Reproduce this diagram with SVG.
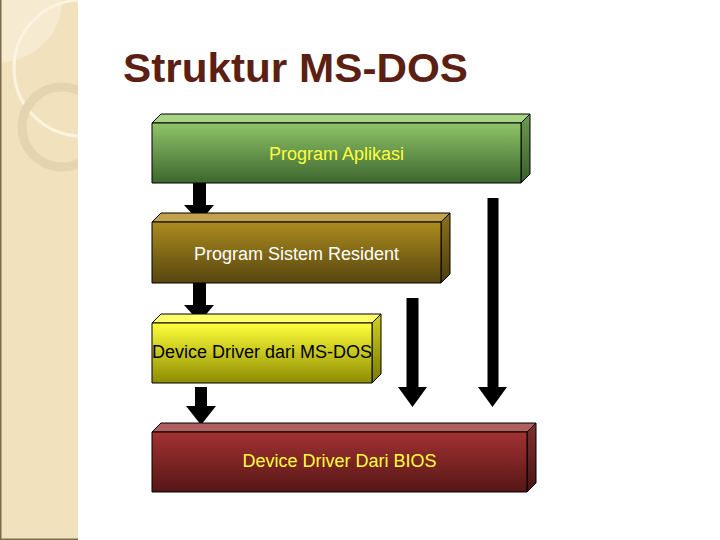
<svg xmlns="http://www.w3.org/2000/svg" width="720" height="540" viewBox="0 0 720 540">
<defs>
<linearGradient id="gGreen" x1="0" y1="0" x2="0" y2="1"><stop offset="0" stop-color="#8fc468"/><stop offset="1" stop-color="#3d672f"/></linearGradient>
<linearGradient id="gGreenS" x1="0" y1="0" x2="0" y2="1"><stop offset="0" stop-color="#6a9a50"/><stop offset="1" stop-color="#3a5e2c"/></linearGradient>
<linearGradient id="gBrown" x1="0" y1="0" x2="0" y2="1"><stop offset="0" stop-color="#ab8b1e"/><stop offset="1" stop-color="#574610"/></linearGradient>
<linearGradient id="gBrownS" x1="0" y1="0" x2="0" y2="1"><stop offset="0" stop-color="#8a7020"/><stop offset="1" stop-color="#4e3e0e"/></linearGradient>
<linearGradient id="gYellow" x1="0" y1="0" x2="0" y2="1"><stop offset="0" stop-color="#ffff3c"/><stop offset="1" stop-color="#8c8c00"/></linearGradient>
<linearGradient id="gYellowS" x1="0" y1="0" x2="0" y2="1"><stop offset="0" stop-color="#d0d020"/><stop offset="1" stop-color="#7a7a00"/></linearGradient>
<linearGradient id="gRed" x1="0" y1="0" x2="0" y2="1"><stop offset="0" stop-color="#a23232"/><stop offset="1" stop-color="#561616"/></linearGradient>
<linearGradient id="gRedS" x1="0" y1="0" x2="0" y2="1"><stop offset="0" stop-color="#803030"/><stop offset="1" stop-color="#4a1414"/></linearGradient>
<clipPath id="panel"><rect x="0" y="0" width="78" height="540"/></clipPath>
</defs>
<style>
.edge{stroke:#000;stroke-width:1;stroke-linejoin:round}
.lbl{font-family:"Liberation Sans",Arial,sans-serif;font-size:18px;text-anchor:middle}
.arrow{fill:#000}
</style>
<rect x="0" y="0" width="720" height="540" fill="#ffffff"/>
<g id="sidepanel" clip-path="url(#panel)">
<rect x="0" y="0" width="78" height="540" fill="#f1e2bd"/>
<circle cx="0" cy="0" r="62" fill="#f6ead0"/>
<circle cx="82" cy="68" r="68" fill="none" stroke="#fbf4e0" stroke-width="3"/>
<circle cx="62" cy="127" r="40" fill="none" stroke="#e4d4b0" stroke-width="9"/>
<rect x="0" y="0" width="1.5" height="540" fill="#7a6a4c"/>
<rect x="0" y="538.5" width="78" height="1.5" fill="#7a6a4c"/>
</g>
<text id="title" x="123" y="82" font-family="'Liberation Sans',Arial,sans-serif" font-size="40" font-weight="bold" fill="#5c2012" textLength="345" lengthAdjust="spacingAndGlyphs">Struktur MS-DOS</text>
<g id="connectors">
<polygon class="arrow" points="193,183 206,183 206,205 214,205 199.5,222 184,205 193,205"/>
<polygon class="arrow" points="193,283 206,283 206,305 214,305 199.5,322 184,305 193,305"/>
<polygon class="arrow" points="195,387 207,387 207,406 216,406 201,425 186,406 195,406"/>
<polygon class="arrow" points="406.5,298 418.5,298 418.5,387 427,387 412.5,407 398,387 406.5,387"/>
<polygon class="arrow" points="487.5,198 498.5,198 498.5,387 507,387 492.5,407 478,387 487.5,387"/>
</g>
<g id="node-aplikasi">
<polygon class="edge" points="152,123 161,114 530,114 521,123" fill="#a6d384"/>
<polygon class="edge" points="521,123 530,114 530,174 521,183" fill="url(#gGreenS)"/>
<rect class="edge" x="152" y="123" width="369" height="60" fill="url(#gGreen)"/>
<text class="lbl" x="336.5" y="160" fill="#ffff40">Program Aplikasi</text>
</g>
<g id="node-resident">
<polygon class="edge" points="152,222 161,213 450,213 441,222" fill="#c2a24a"/>
<polygon class="edge" points="441,222 450,213 450,274 441,283" fill="url(#gBrownS)"/>
<rect class="edge" x="152" y="222" width="289" height="61" fill="url(#gBrown)"/>
<text class="lbl" x="296.5" y="260" fill="#ffffff">Program Sistem Resident</text>
</g>
<g id="node-msdos">
<polygon class="edge" points="152,323 161,314 381,314 372,323" fill="#ffff6a"/>
<polygon class="edge" points="372,323 381,314 381,374 372,383" fill="url(#gYellowS)"/>
<rect class="edge" x="152" y="323" width="220" height="60" fill="url(#gYellow)"/>
<text class="lbl" x="262" y="358" fill="#000000">Device Driver dari MS-DOS</text>
</g>
<g id="node-bios">
<polygon class="edge" points="152,432 161,423 536,423 527,432" fill="#b06060"/>
<polygon class="edge" points="527,432 536,423 536,483 527,492" fill="url(#gRedS)"/>
<rect class="edge" x="152" y="432" width="375" height="60" fill="url(#gRed)"/>
<text class="lbl" x="339.5" y="467" fill="#ffff40">Device Driver Dari BIOS</text>
</g>
</svg>
